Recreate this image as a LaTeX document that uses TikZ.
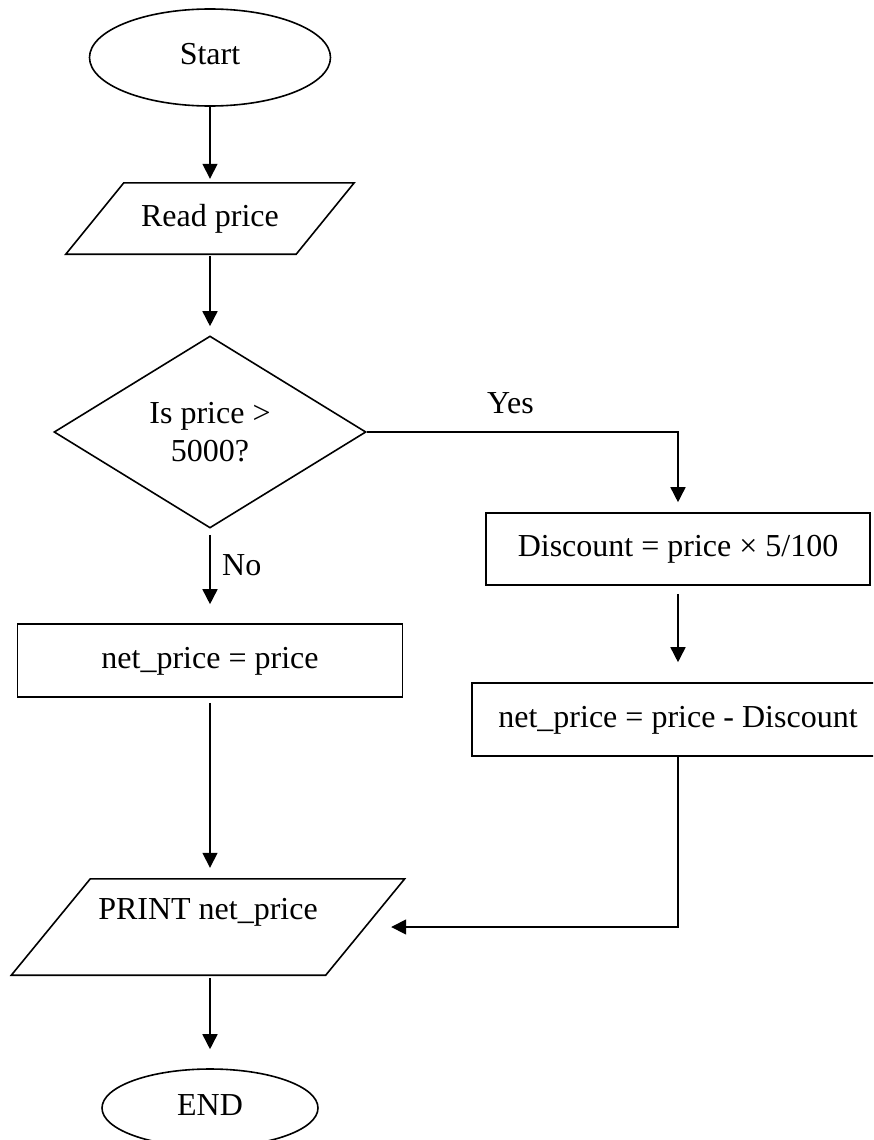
\documentclass[tikz,border=0pt]{standalone}
\usepackage{fontspec}
\setmainfont{Liberation Serif}
\usetikzlibrary{shapes.geometric,arrows.meta}
\begin{document}
\begin{tikzpicture}[x=1pt,y=-1pt,
  lbl/.style={font=\fontsize{32}{38}\selectfont, inner sep=0pt},
  txt/.style={font=\fontsize{32}{38}\selectfont, inner sep=0pt, text height=22pt, text depth=7pt},
  box/.style={txt, draw, rectangle, line width=1.6pt},
  term/.style={txt, draw, ellipse, line width=1.6pt},
  iobox/.style={txt, rectangle},
  outline/.style={line width=1.6pt, line join=miter},
  decision/.style={draw, diamond, line width=1.6pt, aspect=1.625, minimum width=312pt, minimum height=192pt, align=center, inner sep=0pt, font=\fontsize{32}{38}\selectfont},
  arr/.style={-{Triangle[length=15pt,width=15pt]}, line width=1.6pt}
]
\useasboundingbox (0,0) rectangle (873,1140);
\clip (0,0) rectangle (873,1140);

% left column
\node[term, minimum width=241pt, minimum height=97pt] (start) at (210,57.5) {Start};
\node[iobox, minimum width=230pt, minimum height=71pt] (read) at (210,218.5) {Read price};
\draw[outline] ([xshift=29pt]read.north west) -- ([xshift=29pt]read.north east)
  -- ([xshift=-29pt]read.south east) -- ([xshift=-29pt]read.south west) -- cycle;
\node[decision] (dec) at (210,432) {Is price >\\5000?};
\node[box, minimum width=385pt, minimum height=73pt] (np) at (210,660.5) {net\_price = price};
\node[iobox, minimum width=314pt, minimum height=96pt, text depth=38pt] (print) at (208,927) {PRINT net\_price};
\draw[outline] ([xshift=39.5pt]print.north west) -- ([xshift=39.5pt]print.north east)
  -- ([xshift=-39.5pt]print.south east) -- ([xshift=-39.5pt]print.south west) -- cycle;
\node[term, minimum width=216pt, minimum height=78pt] (end) at (210,1108) {END};

% right column
\node[box, minimum width=384pt, minimum height=72pt] (disc) at (678,549) {Discount = price × 5/100};
\node[box, minimum width=412pt, minimum height=73pt] (np2) at (678,719.5) {net\_price = price - Discount};

% labels
\node[lbl, anchor=base west] (no) at (222,575) {No};
\node[lbl, anchor=base west] (yes) at (487,413) {Yes};

% connectors
\draw[arr, shorten >=4pt] (start) -- (read);
\draw[arr, shorten <=2pt, shorten >=9pt] (read) -- (dec);
\draw[arr, shorten <=6pt, shorten >=19pt] (dec) -- (np);
\draw[arr, shorten <=5pt, shorten >=11pt] (np) -- (np |- print.north);
\draw[arr, shorten <=3pt, shorten >=19pt] (print.south -| end) -- (end);
\draw[arr, shorten >=10pt] (dec.east) -| (disc.north);
\draw[arr, shorten <=8pt, shorten >=20pt] (disc) -- (np2);
\draw[arr, shorten >=26pt] (np2.south) |- (print);
\end{tikzpicture}
\end{document}
